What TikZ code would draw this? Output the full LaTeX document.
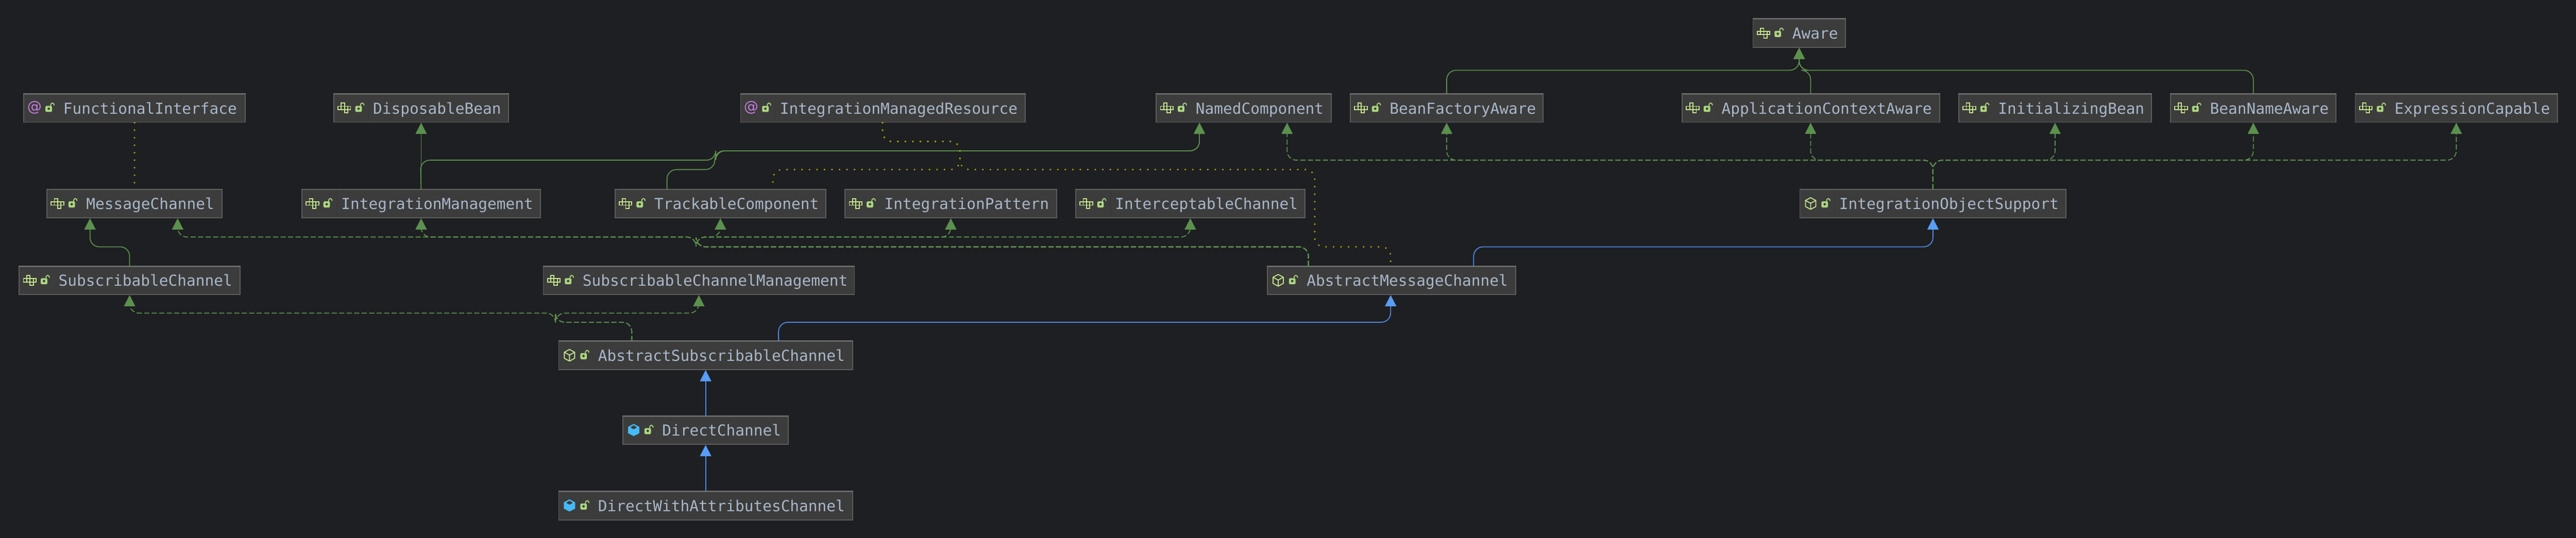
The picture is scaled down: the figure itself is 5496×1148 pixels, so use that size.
\documentclass[tikz,border=0pt]{standalone}
\usepackage{fontspec}
\setmonofont{DejaVu Sans Mono}
\newfontfamily\iconfont{DejaVu Sans}
\usetikzlibrary{arrows.meta}
\definecolor{bgc}{HTML}{1E1F22}
\definecolor{boxc}{HTML}{3C3C3C}
\definecolor{edgec}{HTML}{5C5C5C}
\definecolor{topc}{HTML}{6E6E6E}
\definecolor{sepc}{HTML}{363636}
\definecolor{txtc}{HTML}{A9B7C9}
\definecolor{greenc}{HTML}{5B904E}
\definecolor{bluec}{HTML}{4E8AE6}
\definecolor{blueh}{HTML}{589DF6}
\definecolor{olivec}{HTML}{A6A600}
\definecolor{limec}{HTML}{C5E68C}
\definecolor{lockc}{HTML}{ABD67F}
\definecolor{purplec}{HTML}{C77DDC}
\definecolor{cyanc}{HTML}{45B9F9}
\tikzset{
  cbox/.style={draw=edgec,fill=boxc,line width=1pt,inner sep=0pt,anchor=north west,
    text height=21pt,text depth=9pt,text=txtc,
    font=\ttfamily\fontsize{16.2}{20}\selectfont},
  inhsolid/.style={draw=greenc,line width=1pt,rounded corners=10pt},
  impldash/.style={draw=greenc,line width=1pt,rounded corners=10pt,dash pattern=on 5.5pt off 2.5pt},
  extblue/.style={draw=bluec,line width=1pt,rounded corners=10pt},
  assocdot/.style={draw=olivec,line width=2pt,line cap=round,rounded corners=10pt,dash pattern=on 0pt off 8pt},
  headg/.style={-{Triangle[length=12pt,width=12pt,fill=greenc]}},
  headb/.style={-{Triangle[length=12pt,width=12pt,fill=blueh,color=blueh]}},
  icline/.style={draw=limec,line width=1pt},
}
\newcommand{\iconLock}{%
  \fill[lockc,rounded corners=1pt] (47,26) rectangle (61,39);
  \fill[boxc] (54,32) circle (1.3pt);
  \draw[lockc,line width=1pt] (58,26) .. controls (58,18) and (65,18) .. (65.5,25);
}
\newcommand{\icIface}[2]{\begin{scope}[shift={(#1,#2)}]
  \draw[icline] (10,27) rectangle (37,34);
  \draw[icline] (17,27) -- (17,34) (24,27) -- (24,34) (31,27) -- (31,34);
  \draw[icline] (17,27) -- (17,20) -- (24,20) -- (24,27);
  \draw[icline] (24,34) -- (24,41) -- (31,41) -- (31,34);
  \iconLock
\end{scope}}
\newcommand{\icAnno}[3]{\begin{scope}[shift={(#2,#3)}]
  \node[inner sep=0pt,text=purplec,font=\iconfont\fontsize{15.5}{18}\selectfont] (#1) at (23.5,30) {@};
  \iconLock
\end{scope}}
\newcommand{\icAbs}[2]{\begin{scope}[shift={(#1,#2)}]
  \draw[icline,line join=round] (24,18) -- (35,24) -- (35,37) -- (24,43) -- (13,37) -- (13,24) -- cycle;
  \draw[icline,line join=round] (13,24) -- (24,30) -- (35,24) (24,30) -- (24,43);
  \iconLock
\end{scope}}
\newcommand{\icClass}[2]{\begin{scope}[shift={(#1,#2)}]
  \fill[cyanc] (24,17) -- (36,23.5) -- (36,37) -- (24,43) -- (12,37) -- (12,23.5) -- cycle;
  \fill[boxc] (24,20) -- (31,24.5) -- (24,28.5) -- (17,24.5) -- cycle;
  \iconLock
\end{scope}}
% id, left, top, right, text
\newcommand{\clsbox}[5]{%
  \pgfmathsetlengthmacro\bw{(#4-#2)*0.5pt}%
  \node[cbox] (#1) at (#2,#3) {\makebox[\bw][l]{\hspace*{42pt}#5}};
  \draw[topc,line width=1pt] (#1.north west) -- (#1.north east);
}
\newcommand{\sepline}[2]{\draw[sepc,line width=0.5pt] (#1+75,#2+3) -- (#1+75,#2+58);}
\begin{document}
\begin{tikzpicture}[x=0.5pt,y=-0.5pt]
\useasboundingbox (0,0) rectangle (5496,1148);
\fill[bgc] (-20,-20) rectangle (5516,1168);

% boxes
\clsbox{aware}{3739}{40}{3936}{Aware}
\clsbox{fi}{50}{200}{522}{FunctionalInterface}
\clsbox{db}{711}{200}{1084}{DisposableBean}
\clsbox{imr}{1579}{200}{2186}{IntegrationManagedResource}
\clsbox{nc}{2466}{200}{2839}{NamedComponent}
\clsbox{bfa}{2880}{200}{3291}{BeanFactoryAware}
\clsbox{aca}{3588}{200}{4137}{ApplicationContextAware}
\clsbox{ib}{4178}{200}{4589}{InitializingBean}
\clsbox{bna}{4630}{200}{4983}{BeanNameAware}
\clsbox{ec}{5024}{200}{5455}{ExpressionCapable}
\clsbox{mc}{99}{404}{473}{MessageChannel}
\clsbox{im}{643}{404}{1152}{IntegrationManagement}
\clsbox{tc}{1311}{404}{1761}{TrackableComponent}
\clsbox{ip}{1802}{404}{2253}{IntegrationPattern}
\clsbox{ic}{2294}{404}{2783}{InterceptableChannel}
\clsbox{ios}{3839}{404}{4407}{IntegrationObjectSupport}
\clsbox{sc}{40}{568}{511}{SubscribableChannel}
\clsbox{scm}{1158}{568}{1822}{SubscribableChannelManagement}
\clsbox{amc}{2703}{568}{3233}{AbstractMessageChannel}
\clsbox{asc}{1191}{728}{1818}{AbstractSubscribableChannel}
\clsbox{dc}{1328}{888}{1681}{DirectChannel}
\clsbox{dwa}{1191}{1049}{1818}{DirectWithAttributesChannel}

\sepline{711}{200}\sepline{643}{404}\sepline{1579}{200}\sepline{2294}{404}\sepline{3839}{404}\sepline{3588}{200}

% icons
\icIface{3739}{40}
\icAnno{fiat}{50}{200}
\icIface{711}{200}
\icAnno{imrat}{1579}{200}
\icIface{2466}{200}\icIface{2880}{200}\icIface{3588}{200}\icIface{4178}{200}\icIface{4630}{200}\icIface{5024}{200}
\icIface{99}{404}\icIface{643}{404}\icIface{1311}{404}\icIface{1802}{404}\icIface{2294}{404}
\icAbs{3839}{404}
\icIface{40}{568}\icIface{1158}{568}
\icAbs{2703}{568}\icAbs{1191}{728}
\icClass{1328}{888}\icClass{1191}{1049}

% solid inheritance
\draw[inhsolid,headg] (bfa.north) -- (bfa.north |- 0,150) -- (aware.south |- 0,150) -- (aware.south);
\draw[inhsolid,headg] (aca.north -| 3863,0) -- (3863,150) -- (aware.south |- 0,150) -- (aware.south);
\draw[inhsolid,headg] (bna.north) -- (bna.north |- 0,150) -- (aware.south |- 0,150) -- (aware.south);
\draw[inhsolid,headg] (im.north) -- (db.south -| im.north);
\draw[inhsolid,headg] (im.north) -- (897,342) -- (1527,342) -- (1527,322) -- (2559,322) -- (nc.south -| 2559,0);
\draw[inhsolid,headg] (tc.north -| 1423,0) -- (1423,362) -- (1525,362) -- (1525,322) -- (2559,322) -- (nc.south -| 2559,0);
\draw[inhsolid,headg] (sc.north) -- (sc.north |- 0,527) -- (192,527) -- (mc.south -| 192,0);

% dashed implementation: IntegrationObjectSupport
\draw[impldash,headg] (ios.north) -- (ios.north |- 0,342) -- (2746,342) -- (nc.south -| 2746,0);
\draw[impldash,headg] (ios.north) -- (ios.north |- 0,342) -- (bfa.south |- 0,342) -- (bfa.south);
\draw[impldash,headg] (ios.north) -- (ios.north |- 0,342) -- (3863,342) -- (aca.south -| 3863,0);
\draw[impldash,headg] (ios.north) -- (ios.north |- 0,342) -- (ib.south |- 0,342) -- (ib.south);
\draw[impldash,headg] (ios.north) -- (ios.north |- 0,342) -- (bna.south |- 0,342) -- (bna.south);
\draw[impldash,headg] (ios.north) -- (ios.north |- 0,342) -- (ec.south |- 0,342) -- (ec.south);

% dashed implementation: AbstractMessageChannel
\draw[impldash,headg] (amc.north -| 2791.5,0) -- (2791.5,527) -- (1485,527) -- (1485,506) -- (379,506) -- (mc.south -| 379,0);
\draw[impldash,headg] (amc.north -| 2791.5,0) -- (2791.5,527) -- (1485,527) -- (1485,506) -- (im.south |- 0,506) -- (im.south);
\draw[impldash,headg] (amc.north -| 2791.5,0) -- (2791.5,527) -- (1485,527) -- (1485,506) -- (tc.south |- 0,506) -- (tc.south);
\draw[impldash,headg] (amc.north -| 2791.5,0) -- (2791.5,527) -- (1485,527) -- (1485,506) -- (ip.south |- 0,506) -- (ip.south);
\draw[impldash,headg] (amc.north -| 2791.5,0) -- (2791.5,527) -- (1485,527) -- (1485,506) -- (ic.south |- 0,506) -- (ic.south);

% dashed implementation: AbstractSubscribableChannel
\draw[impldash,headg] (asc.north -| 1348,0) -- (1348,688) -- (1185,688) -- (1185,668.5) -- (sc.south |- 0,668.5) -- (sc.south);
\draw[impldash,headg] (asc.north -| 1348,0) -- (1348,688) -- (1185,688) -- (1185,668.5) -- (scm.south |- 0,668.5) -- (scm.south);

% blue extends
\draw[extblue,headb] (dwa.north) -- (dc.south);
\draw[extblue,headb] (dc.north) -- (asc.south);
\draw[extblue,headb] (asc.north -| 1661,0) -- (1661,688) -- (2967,688) -- (amc.south -| 2967,0);
\draw[extblue,headb] (amc.north -| 3144,0) -- (3144,527) -- (ios.south |- 0,527) -- (ios.south);

% dotted annotation use
\draw[assocdot] (fi.south) -- (mc.north);
\draw[assocdot] (imr.south -| 1883,0) -- (1883,302) -- (2048,302) -- (2048,362) -- (1649,362) -- (tc.north -| 1649,0);
\draw[assocdot] (imr.south -| 1883,0) -- (1883,302) -- (2048,302) -- (2048,362) -- (2805,362) -- (2805,527) -- (2967,527) -- (amc.north -| 2967,0);
\end{tikzpicture}
\end{document}
